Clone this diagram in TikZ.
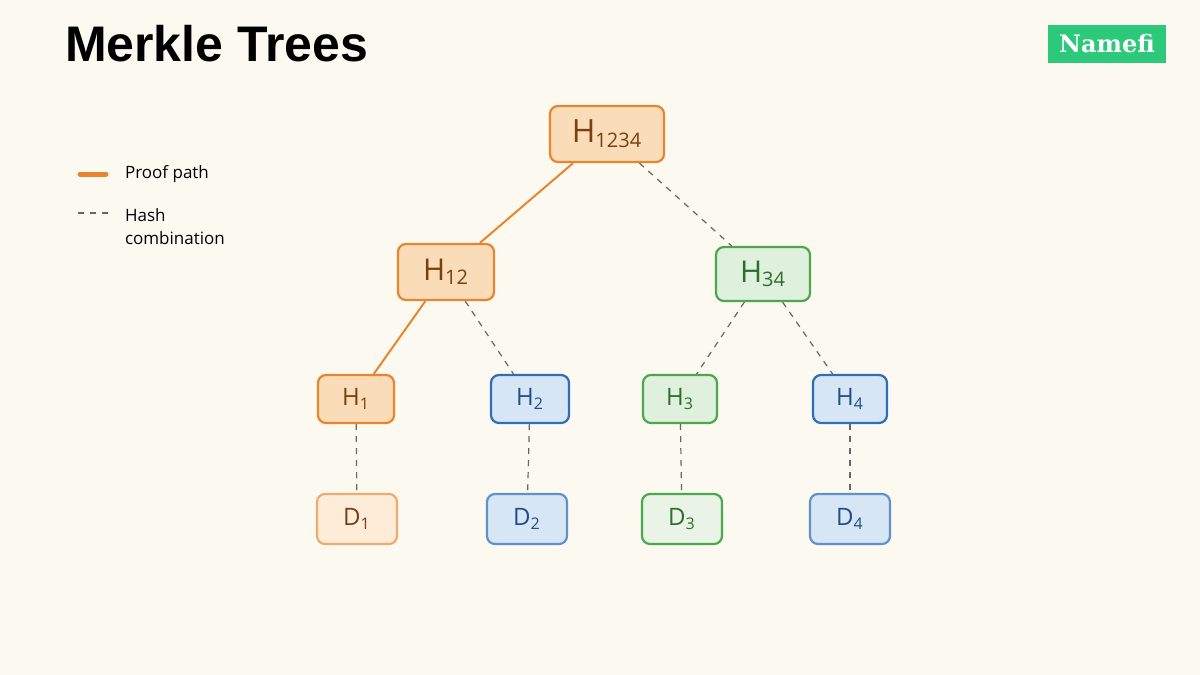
\documentclass[tikz,border=0pt]{standalone}
\usepackage{fontspec}
\setmainfont{Open Sans}
\newfontfamily\titlefont{Liberation Sans}
\newfontfamily\logofont{DejaVu Serif}
\definecolor{bgpaper}{HTML}{FCF9F1}
\definecolor{orline}{HTML}{E8852E}
\definecolor{orfill}{HTML}{FADDB8}
\definecolor{ortext}{HTML}{7A3E0F}
\definecolor{blline}{HTML}{2E6DB8}
\definecolor{blfill}{HTML}{D6E6F5}
\definecolor{bltext}{HTML}{1F4D8A}
\definecolor{grline}{HTML}{4CA84C}
\definecolor{grfill}{HTML}{DFF0DC}
\definecolor{grtext}{HTML}{2D6E2D}
\definecolor{logogreen}{HTML}{2DC97A}
\tikzset{
  box/.style={draw, rounded corners=4pt, line width=1.1pt, inner sep=0pt},
  orbox/.style={box, draw=orline, fill=orfill, text=ortext},
  blbox/.style={box, draw=blline, fill=blfill, text=bltext},
  grbox/.style={box, draw=grline, fill=grfill, text=grtext},
  proof/.style={orline, line width=1pt},
  combine/.style={gray!80!black, dashed, line width=0.6pt},
}
\begin{document}
\begin{tikzpicture}[x=0.5pt, y=-0.5pt]
% Background
\fill[bgpaper] (0,0) rectangle (1200,675);
\useasboundingbox (0,0) rectangle (1200,675);
% Title and logo
\node[anchor=west, font=\titlefont\bfseries\fontsize{25}{28}\selectfont] (title) at (58,44) {Merkle Trees};
\node[fill=logogreen, text=white, font=\logofont\bfseries\fontsize{12}{14}\selectfont,
  minimum width=59pt, minimum height=19pt, inner sep=0pt] (logo) at (1107,44) {Namefi};
% Legend
\draw[orline, line width=2.5pt, line cap=round] (80,174) coordinate (pa) -- (106,174) coordinate (pb);
\node[anchor=west, font=\fontsize{8.5}{10}\selectfont] (leg1) at (118,174) {Proof path};
\draw[combine] (78,213) coordinate (da) -- (108,213) coordinate (db);
\node[anchor=north west, align=left, font=\fontsize{8.5}{11.5}\selectfont] (leg2) at (118,202) {Hash\\combination};
% Hash nodes
\node[orbox, minimum width=57pt, minimum height=28pt, font=\fontsize{16}{18}\selectfont] (h1234) at (607,134) {H\textsubscript{\normalsize 1234}};
\node[orbox, minimum width=48pt, minimum height=28pt, font=\fontsize{15}{18}\selectfont] (h12) at (446,272) {H\textsubscript{\normalsize 12}};
\node[grbox, minimum width=47pt, minimum height=27pt, font=\fontsize{15}{18}\selectfont] (h34) at (763,274) {H\textsubscript{\normalsize 34}};
\node[orbox, minimum width=38pt, minimum height=24pt, font=\fontsize{12}{14}\selectfont] (h1) at (356,399) {H\textsubscript{1}};
\node[blbox, minimum width=39pt, minimum height=24pt, font=\fontsize{12}{14}\selectfont] (h2) at (530,399) {H\textsubscript{2}};
\node[grbox, minimum width=37pt, minimum height=24pt, font=\fontsize{12}{14}\selectfont] (h3) at (680,399) {H\textsubscript{3}};
\node[blbox, minimum width=37pt, minimum height=24pt, font=\fontsize{12}{14}\selectfont] (h4) at (850,399) {H\textsubscript{4}};
% Data nodes
\node[box, draw=orline!70, fill=orfill!55, text=ortext, minimum width=40pt, minimum height=25pt, font=\fontsize{12}{14}\selectfont] (d1) at (357,519) {D\textsubscript{1}};
\node[box, draw=blline!75, fill=blfill, text=bltext, minimum width=40pt, minimum height=25pt, font=\fontsize{12}{14}\selectfont] (d2) at (527,519) {D\textsubscript{2}};
\node[box, draw=grline, fill=grfill!70, text=grtext, minimum width=40pt, minimum height=25pt, font=\fontsize{12}{14}\selectfont] (d3) at (682,519) {D\textsubscript{3}};
\node[box, draw=blline!75, fill=blfill, text=bltext, minimum width=40pt, minimum height=25pt, font=\fontsize{12}{14}\selectfont] (d4) at (850,519) {D\textsubscript{4}};
% Connectors
\draw[proof] (h1234) -- (h12);
\draw[proof] (h12) -- (h1);
\draw[combine] (h1234) -- (h34);
\draw[combine] (h12) -- (h2);
\draw[combine] (h34) -- (h3);
\draw[combine] (h34) -- (h4);
\foreach \i in {1,2,3,4} {
  \draw[combine] (h\i) -- (d\i);
}
\end{tikzpicture}
\end{document}
